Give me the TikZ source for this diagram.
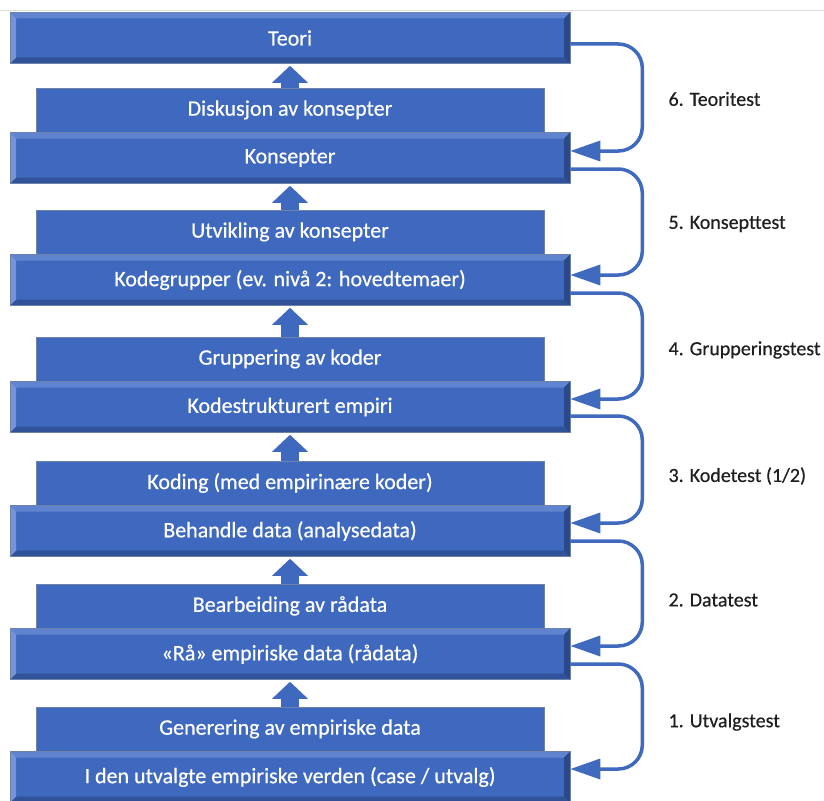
\documentclass[tikz,border=0pt]{standalone}
\usepackage{fontspec}
\setmainfont{Carlito}
\newfontfamily\boxfont{Carlito}[FakeBold=0.5]
\usepackage{tikz}
\usetikzlibrary{arrows.meta,positioning}

\definecolor{boxblue}{RGB}{63,105,190}
\definecolor{loopblue}{RGB}{64,106,190}
\definecolor{bevtop}{RGB}{96,132,207}
\definecolor{bevleft}{RGB}{118,148,214}
\definecolor{bevbot}{RGB}{47,82,152}
\definecolor{bevright}{RGB}{42,72,138}
\definecolor{edgegray}{RGB}{110,130,170}

\begin{document}
\begin{tikzpicture}[
  x=1pt, y=-1pt,
  font=\boxfont\fontsize{22}{24}\selectfont,
  levelbox/.style={fill=boxblue, draw=edgegray, line width=0.6pt, text=white, minimum width=560pt, minimum height=51pt, inner sep=0pt,
    path picture={
      \coordinate (nw) at (path picture bounding box.north west);
      \coordinate (ne) at (path picture bounding box.north east);
      \coordinate (sw) at (path picture bounding box.south west);
      \coordinate (se) at (path picture bounding box.south east);
      \fill[bevtop] (nw) -- (ne) -- ([shift={(-6pt,-6pt)}]ne) -- ([shift={(6pt,-6pt)}]nw) -- cycle;
      \fill[bevbot] (sw) -- (se) -- ([shift={(-6pt,6pt)}]se) -- ([shift={(6pt,6pt)}]sw) -- cycle;
      \fill[bevleft] (nw) -- (sw) -- ([shift={(6pt,6pt)}]sw) -- ([shift={(6pt,-6pt)}]nw) -- cycle;
      \fill[bevright] (ne) -- (se) -- ([shift={(-6pt,6pt)}]se) -- ([shift={(-6pt,-6pt)}]ne) -- cycle;
    }},
  stepbox/.style={fill=boxblue, draw=edgegray, line width=0.6pt, text=white, minimum width=508pt, minimum height=44pt, inner sep=0pt},
  uparr/.style={draw=boxblue, line width=18pt, -{Triangle[length=17pt,width=36pt,line width=0pt]}, shorten >=2pt},
  testloop/.style={draw=loopblue, line width=3.5pt, rounded corners=24pt, -{Triangle[length=30pt,width=20pt]}},
  testlabel/.style={anchor=west, text=black!88, font=\boxfont\fontsize{20}{24}\selectfont}
]
\useasboundingbox (0,0) rectangle (824,800);
\draw[black!13, line width=1pt] (0,11) -- (824,11);

% niva
\node[levelbox] (teori) at (290,38) {Teori};
\node[levelbox] (konsepter) at (290,158) {Konsepter};
\node[levelbox] (kodegrupper) at (290,280) {Kodegrupper (ev. nivå 2: hovedtemaer)};
\node[levelbox] (kodestrukt) at (290,407) {Kodestrukturert empiri};
\node[levelbox] (behandle) at (290,531) {Behandle data (analysedata)};
\node[levelbox] (raadata) at (290,654) {«Rå» empiriske data (rådata)};
\node[levelbox] (verden) at (290,777) {I den utvalgte empiriske verden (case / utvalg)};

% steg
\node[stepbox, above=0pt of konsepter] (diskusjon) {Diskusjon av konsepter};
\node[stepbox, above=0pt of kodegrupper] (utvikling) {Utvikling av konsepter};
\node[stepbox, above=0pt of kodestrukt] (gruppering) {Gruppering av koder};
\node[stepbox, above=0pt of behandle] (koding) {Koding (med empirinære koder)};
\node[stepbox, above=0pt of raadata] (bearbeiding) {Bearbeiding av rådata};
\node[stepbox, above=0pt of verden] (generering) {Generering av empiriske data};

\draw[uparr] (diskusjon.north) -- (teori.south);
\draw[uparr] (utvikling.north) -- (konsepter.south);
\draw[uparr] (gruppering.north) -- (kodegrupper.south);
\draw[uparr] (koding.north) -- (kodestrukt.south);
\draw[uparr] (bearbeiding.north) -- (behandle.south);
\draw[uparr] (generering.north) -- (raadata.south);

% tester
\draw[testloop] ([yshift=-6pt]teori.east) -- ++(72,0) |- ([yshift=7pt]konsepter.east);
\draw[testloop] ([yshift=-11pt]konsepter.east) -- ++(72,0) |- ([yshift=5pt]kodegrupper.east);
\draw[testloop] ([yshift=-13pt]kodegrupper.east) -- ++(72,0) |- ([yshift=8pt]kodestrukt.east);
\draw[testloop] ([yshift=-9pt]kodestrukt.east) -- ++(72,0) |- ([yshift=8pt]behandle.east);
\draw[testloop] ([yshift=-10pt]behandle.east) -- ++(72,0) |- ([yshift=8pt]raadata.east);
\draw[testloop] ([yshift=-10pt]raadata.east) -- ++(72,0) |- ([yshift=8pt]verden.east);

\node[testlabel] (t6) at (665,99) {6. Teoritest};
\node[testlabel] (t5) at (665,224) {5. Konsepttest};
\node[testlabel] (t4) at (665,350) {4. Grupperingstest};
\node[testlabel] (t3) at (665,476) {3. Kodetest (1/2)};
\node[testlabel] (t2) at (665,600) {2. Datatest};
\node[testlabel] (t1) at (665,722) {1. Utvalgstest};
\end{tikzpicture}
\end{document}
